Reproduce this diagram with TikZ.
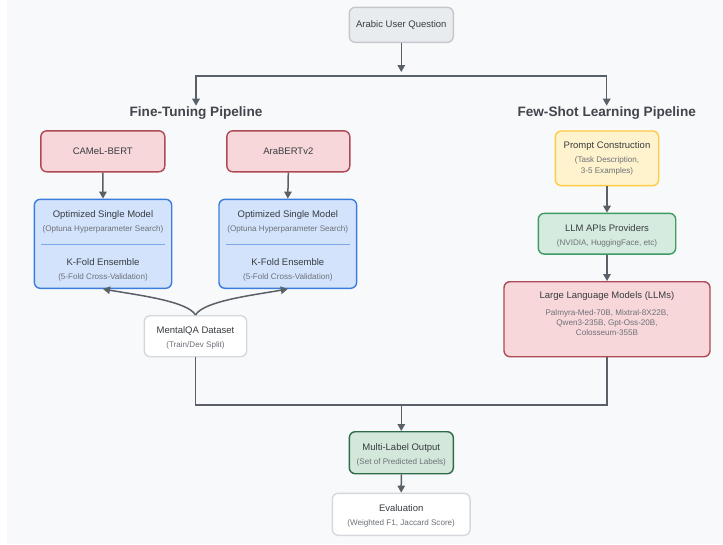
\documentclass[tikz,border=0pt]{standalone}
\usepackage{fontspec}
\setmainfont{Liberation Sans}
\usetikzlibrary{arrows.meta,calc}
\definecolor{bg}{HTML}{F8F9FA}
\definecolor{qfill}{HTML}{E9ECEF}
\definecolor{qdraw}{HTML}{C4C8CD}
\definecolor{redfill}{HTML}{F8D7DA}
\definecolor{reddraw}{HTML}{AE4A55}
\definecolor{bluefill}{HTML}{D3E3FC}
\definecolor{bluedraw}{HTML}{3C7DDB}
\definecolor{sepc}{HTML}{7EA8E8}
\definecolor{yelfill}{HTML}{FFF3CD}
\definecolor{yeldraw}{HTML}{FFCB45}
\definecolor{grnfill}{HTML}{D5EBDF}
\definecolor{grndraw}{HTML}{3E9B63}
\definecolor{outfill}{HTML}{D3E8DB}
\definecolor{outdraw}{HTML}{2F6B4B}
\definecolor{whdraw}{HTML}{D5D8DC}
\definecolor{linec}{HTML}{5A6068}
\definecolor{maintext}{HTML}{383C40}
\definecolor{subtext}{HTML}{6C7177}
\definecolor{titletext}{HTML}{41464C}
\newcommand\subt[1]{{\fontsize{8.1}{10}\selectfont\color{subtext}#1}}
\newcommand\topstrut{\rule{0pt}{10.5pt}}
\begin{document}
\begin{tikzpicture}[x=1pt,y=-1pt,
  box/.style={draw, rounded corners=6pt, line width=1.4pt, align=center, inner sep=0pt,
    font=\fontsize{9.5}{14}\selectfont, text=maintext},
  graybox/.style={box, fill=qfill, draw=qdraw},
  redbox/.style={box, fill=redfill, draw=reddraw},
  bluebox/.style={box, fill=bluefill, draw=bluedraw},
  yelbox/.style={box, fill=yelfill, draw=yeldraw},
  grnbox/.style={box, fill=grnfill, draw=grndraw},
  outbox/.style={box, fill=outfill, draw=outdraw},
  whbox/.style={box, fill=white, draw=whdraw},
  ttl/.style={font=\fontsize{13.6}{16}\bfseries, text=titletext, inner sep=0pt},
  arr/.style={draw=linec, line width=1.5pt, -{Triangle[length=7pt,width=7.5pt]}},
  ln/.style={draw=linec, line width=1.5pt}
]
\useasboundingbox (0,0) rectangle (723,544);
\fill[white] (0,0) rectangle (723,544);
\fill[bg] (7,0) rectangle (723,544);

% nodes
\node[graybox, minimum width=104pt, minimum height=35pt] (q) at (401.3,24.8) {Arabic User Question};
\node[ttl] (ft) at (196,113) {Fine-Tuning Pipeline};
\node[ttl] (fs) at (606.7,113) {Few-Shot Learning Pipeline};

\node[redbox, minimum width=124pt, minimum height=41pt] (c1) at (102.8,151.3) {CAMeL-BERT};
\node[redbox, minimum width=123pt, minimum height=41pt] (c2) at (288.3,151.3) {AraBERTv2};

\node[bluebox, minimum width=137.4pt, minimum height=89pt] (b1) at (103,243.8)
  {\topstrut Optimized Single Model\\\subt{(Optuna Hyperparameter Search)}\\[19.7pt]K-Fold Ensemble\\\subt{(5-Fold Cross-Validation)}};
\node[bluebox, minimum width=137.7pt, minimum height=89pt] (b2) at (287.8,243.8)
  {\topstrut Optimized Single Model\\\subt{(Optuna Hyperparameter Search)}\\[19.7pt]K-Fold Ensemble\\\subt{(5-Fold Cross-Validation)}};

\node[whbox, minimum width=102.4pt, minimum height=41pt] (m) at (195.5,336.2)
  {\topstrut MentalQA Dataset\\\subt{(Train/Dev Split)}};

\node[yelbox, minimum width=103.4pt, minimum height=54.7pt] (p) at (607,158.3)
  {Prompt Construction\\\subt{(Task Description,}\\[-3.5pt]\subt{3-5 Examples)}};
\node[grnbox, minimum width=137.4pt, minimum height=40.7pt] (a) at (607,233.7)
  {\topstrut LLM APIs Providers\\\subt{(NVIDIA, HuggingFace, etc)}};
\node[redbox, minimum width=206pt, minimum height=75pt] (l) at (607,319.2)
  {Large Language Models (LLMs)\\[3pt]\subt{Palmyra-Med-70B, Mixtral-8X22B,}\\[-3.5pt]\subt{Qwen3-235B, Gpt-Oss-20B,}\\[-4pt]\subt{Colosseum-355B}\\[-2.5pt]\mbox{}};

\node[outbox, minimum width=104pt, minimum height=42pt] (o) at (401.3,452.7)
  {\topstrut Multi-Label Output\\\subt{(Set of Predicted Labels)}};
\node[whbox, minimum width=137.7pt, minimum height=42pt] (e) at (401.2,514.3)
  {\topstrut Evaluation\\\subt{(Weighted F1, Jaccard Score)}};

% separators in blue boxes
\draw[sepc, line width=1pt] ($(b1.west)+(7.4,0.2)$) -- ($(b1.east)+(-7.4,0.2)$);
\draw[sepc, line width=1pt] ($(b2.west)+(7.4,0.2)$) -- ($(b2.east)+(-7.4,0.2)$);

% coordinates
\coordinate (j1) at (401.3,76);
\coordinate (tl) at (196,105.7);
\coordinate (tr) at (606.7,105.7);
\coordinate (j2) at (401.3,405);

% connectors
\draw[arr, shorten >=4pt] (q.south) -- (j1);
\draw[arr] (j1) -| (tl);
\draw[arr] (j1) -| (tr);

\draw[arr] (c1.south) -- (b1.north);
\draw[arr] (c2.south) -- (b2.north);

\draw[arr] (m.north) .. controls +(-8,-14) and +(34,6) .. (b1.south);
\draw[arr] (m.north) .. controls +(8,-14) and +(-34,6) .. (b2.south);

\draw[arr] (p.south) -- (a.north);
\draw[arr] (a.south) -- (l.north);

\draw[ln] (m.south) |- (j2);
\draw[ln] (l.south) |- (j2);
\draw[arr] (j2) -- (o.north);
\draw[arr] (o.south) -- (e.north);
\end{tikzpicture}
\end{document}
